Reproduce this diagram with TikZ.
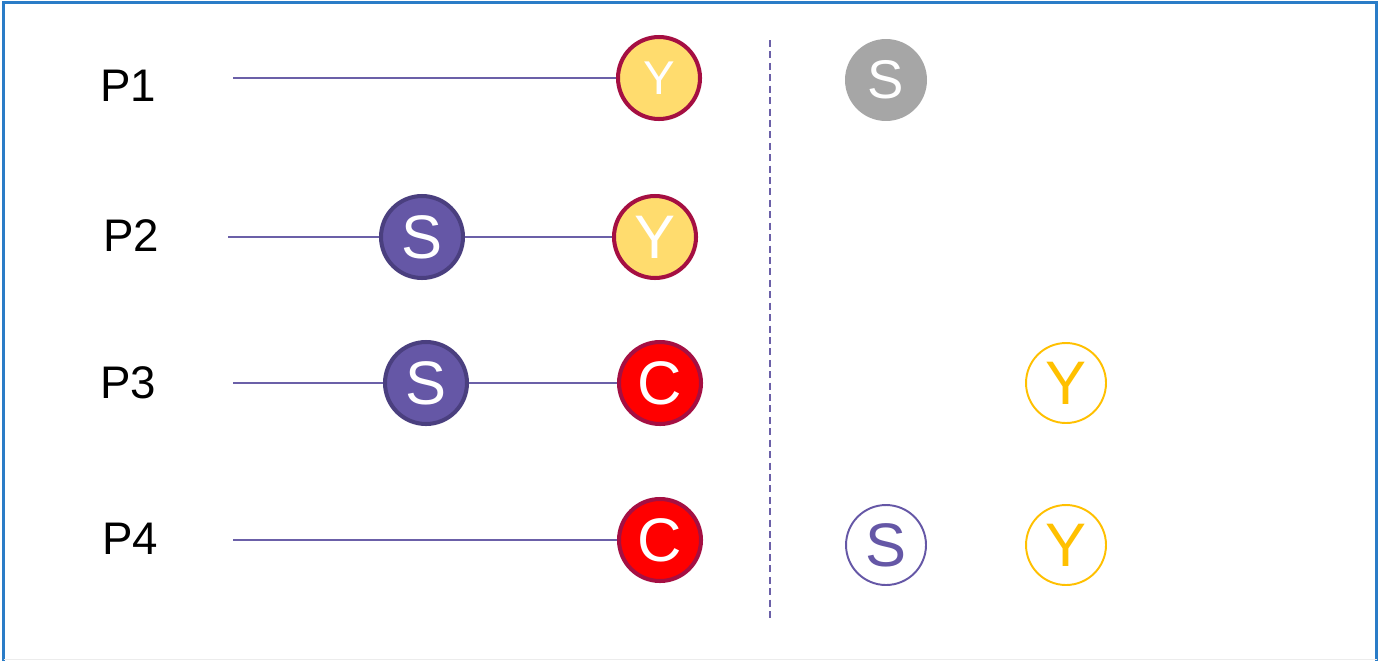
\documentclass[tikz,border=0pt]{standalone}
\usepackage{fontspec}
\setmainfont{Liberation Sans}
\definecolor{bordblue}{HTML}{2A7CC7}
\definecolor{purp}{HTML}{6557A6}
\definecolor{purpdark}{HTML}{4A3F7F}
\definecolor{linep}{HTML}{6B60A8}
\definecolor{yfill}{HTML}{FFDC6E}
\definecolor{crim}{HTML}{A50F42}
\definecolor{redf}{HTML}{FF0000}
\definecolor{grayf}{HTML}{A6A6A6}
\definecolor{ygold}{HTML}{FFC000}
\begin{document}
\begin{tikzpicture}[x=0.02cm,y=-0.02cm,
  lbl/.style={font=\fontsize{26}{28}\selectfont, text=black},
  ball/.style={circle, inner sep=0pt, minimum size=1.64cm, line width=2.3pt, text=white, font=\fontsize{35}{38}\selectfont},
  sball/.style={ball, fill=purp, draw=purpdark},
  yball/.style={ball, fill=yfill, draw=crim},
  cball/.style={ball, fill=redf, draw=crim},
  gball/.style={circle, inner sep=0pt, minimum size=1.64cm, fill=grayf, text=white, font=\fontsize{31}{34}\selectfont},
  oball/.style={circle, inner sep=0pt, minimum size=1.6cm, line width=1.1pt, font=\fontsize{35}{38}\selectfont},
  conn/.style={draw=linep, line width=1.2pt}]
\useasboundingbox (0,0) rectangle (1378,660);
\fill[white] (0,0) rectangle (1378,660);
\draw[bordblue, line width=1.3pt] (3.5,665) -- (3.5,2.5) -- (1376.5,2.5) -- (1376.5,665);
\draw[gray!15, line width=0.8pt] (3.5,659.5) -- (1376.5,659.5);

% labels
\node[lbl] (p1) at (128,86) {P1};
\node[lbl] (p2) at (131,236) {P2};
\node[lbl] (p3) at (128,383) {P3};
\node[lbl] (p4) at (130,539) {P4};

% row 1
\node[yball, font=\fontsize{27}{30}\selectfont] (y1) at (659,78) {Y};
\coordinate (a1) at (233,78);
\coordinate (b1) at (493,78);
\coordinate (c1) at (467,78);
\draw[conn] (a1) -- (b1);
\draw[conn] (c1) -- (y1);
\node[gball] (gs) at (886,80) {S};

% row 2
\node[sball] (s2) at (422,237) {S};
\node[yball] (y2) at (655,237) {Y};
\coordinate (a2) at (228,237);
\draw[conn] (a2) -- (s2);
\draw[conn] (s2) -- (y2);

% row 3
\node[sball] (s3) at (426,383) {S};
\node[cball] (c3) at (660,383) {C};
\coordinate (a3) at (233,383);
\draw[conn] (a3) -- (s3);
\draw[conn] (s3) -- (c3);
\node[oball, draw=ygold, text=ygold] (oy3) at (1066,383) {Y};

% row 4
\node[cball] (c4) at (660,540) {C};
\coordinate (a4) at (233,540);
\coordinate (b4) at (493,540);
\coordinate (d4) at (467,540);
\draw[conn] (a4) -- (b4);
\draw[conn] (d4) -- (c4);
\node[oball, draw=purp, text=purp] (os4) at (886,545) {S};
\node[oball, draw=ygold, text=ygold] (oy4) at (1066,545) {Y};

% divider
\coordinate (dv1) at (770,40);
\coordinate (dv2) at (770,619);
\draw[draw=linep, line width=0.9pt, dash pattern=on 4pt off 2.5pt] (dv1) -- (dv2);
\end{tikzpicture}
\end{document}
